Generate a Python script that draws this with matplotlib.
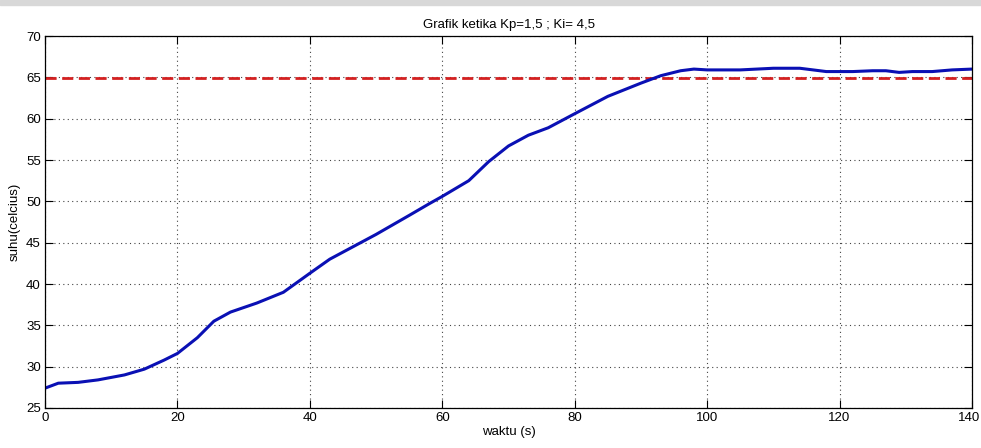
import matplotlib
matplotlib.use("Agg")
import matplotlib.pyplot as plt
from matplotlib.patches import Rectangle
from matplotlib.transforms import ScaledTranslation

# data
waktu = [0, 2, 5, 8, 12, 15, 18, 20, 23, 25.5, 28, 32, 36, 40, 43, 50, 55, 58,
         60, 64, 67, 70, 73, 76, 80, 85, 90, 93, 96, 98, 100, 105, 110, 114,
         118, 122, 125, 127, 129, 131, 134, 137, 140]
suhu = [27.4, 28.0, 28.1, 28.4, 29.0, 29.7, 30.8, 31.6, 33.5, 35.5, 36.6, 37.7,
        39.0, 41.3, 43.0, 46.0, 48.3, 49.7, 50.6, 52.5, 54.8, 56.7, 58.0, 58.9,
        60.6, 62.7, 64.3, 65.2, 65.8, 66.0, 65.9, 65.9, 66.1, 66.1, 65.7, 65.7,
        65.8, 65.8, 65.6, 65.7, 65.7, 65.9, 66.0]
setpoint_t = [0, 140]
setpoint = [64.9, 64.9]

plt.rcParams['font.family'] = ['Liberation Sans Narrow', 'Liberation Sans', 'DejaVu Sans']

fig = plt.figure(figsize=(9.81, 4.48), dpi=100)
ax = fig.add_axes([0.0459, 0.0893, 0.9449, 0.8303])

ax.plot(setpoint_t, setpoint, color='#d42020', linestyle='--', linewidth=2, dashes=(4, 2))
ax.plot(waktu, suhu, color='#0a10b4', linewidth=2.2)

ax.set_xlim(0, 140)
ax.set_ylim(25, 70)
ax.set_xticks(range(0, 141, 20))
ax.set_yticks(range(25, 71, 5))
ax.grid(True, color='#444444', linestyle=(0, (1, 3)), linewidth=0.8)
ax.tick_params(direction='in', length=6, top=True, right=True, labelsize=9.5, pad=3)
for s in ax.spines.values():
    s.set_linewidth(0.9)

# keep the last x tick label inside the picture
last = ax.get_xticklabels()[-1]
last.set_ha('right')
last.set_transform(last.get_transform() + ScaledTranslation(8 / 100, 0, fig.dpi_scale_trans))

ax.set_title('Grafik ketika Kp=1,5 ; Ki= 4,5', fontsize=9.5, pad=6)
ax.set_xlabel('waktu (s)', fontsize=9.5, labelpad=1)
ax.set_ylabel('suhu(celcius)', fontsize=9.5, labelpad=4)

# grey strip at the top edge of the picture
fig.patches.append(Rectangle((0, 0.988), 1, 0.012, transform=fig.transFigure,
                             color='#d8d8d8', zorder=0))

fig.savefig('out.png', dpi=100)
